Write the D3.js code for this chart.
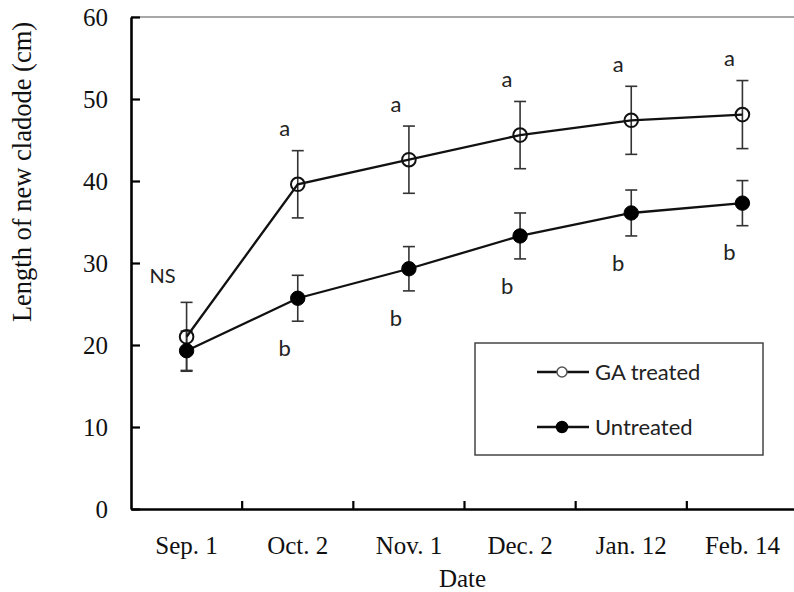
<!DOCTYPE html>
<html>
<head>
<meta charset="utf-8">
<script src="https://cdn.jsdelivr.net/npm/d3@7"></script>
<style>
  html, body { margin: 0; padding: 0; background: #fff; }
  svg { display: block; }
</style>
</head>
<body>
<svg id="chart" width="794" height="592"></svg>
<script>
// ---- data ----
const categories = ["Sep. 1", "Oct. 2", "Nov. 1", "Dec. 2", "Jan. 12", "Feb. 14"];
const gaMean = [21.0, 39.6, 42.6, 45.6, 47.4, 48.1];
const gaErr = [4.2, 4.1, 4.1, 4.1, 4.15, 4.15];
const untreatedMean = [19.3, 25.7, 29.3, 33.3, 36.1, 37.3];
const untreatedErr = [2.4, 2.8, 2.7, 2.8, 2.8, 2.75];
const gaLetters = ["", "a", "a", "a", "a", "a"];
const untreatedLetters = ["", "b", "b", "b", "b", "b"];
const firstLabel = "NS";
const yTicks = [0, 10, 20, 30, 40, 50, 60];
const seriesNames = ["GA treated", "Untreated"];
const yTitle = "Length of new cladode (cm)";
const xTitle = "Date";

(function () {
// ---- layout ----
const svg = d3.select("#chart");
const pLeft = 131, pRight = 798, pTop = 17, pBottom = 509;
const serif = "'Liberation Serif', 'Times New Roman', serif";
const sans = "Lato, 'Open Sans', sans-serif";

const x = d3.scaleBand().domain(categories).range([pLeft, pRight]).padding(0);
const cx = c => x(c) + x.bandwidth() / 2;
const y = d3.scaleLinear().domain([0, 60]).range([pBottom, pTop]);

// top border line (plot area)
svg.append("line")
  .attr("x1", pLeft).attr("x2", 794).attr("y1", y(60)).attr("y2", y(60))
  .attr("stroke", "#8a8a8a").attr("stroke-width", 1.5);

// y axis
const yAxis = d3.axisLeft(y).tickValues(yTicks).tickSize(-9).tickPadding(32).tickSizeOuter(0);
const gy = svg.append("g").attr("transform", `translate(${pLeft},0)`).call(yAxis);
gy.select(".domain").attr("stroke", "#000").attr("stroke-width", 2.6);
gy.selectAll(".tick line").attr("stroke", "#000").attr("stroke-width", 2.2);
gy.selectAll(".tick text").attr("font-family", serif).attr("font-size", 25).attr("fill", "#111")
  .attr("dx", 9);

// x axis line + labels
const xAxis = d3.axisBottom(x).tickSize(0).tickPadding(27).tickSizeOuter(0);
const gx = svg.append("g").attr("transform", `translate(0,${pBottom})`).call(xAxis);
gx.select(".domain").attr("stroke", "#000").attr("stroke-width", 2.6);
gx.selectAll(".tick text").attr("font-family", serif).attr("font-size", 25).attr("fill", "#111");

// x boundary ticks (between categories, pointing inward)
svg.append("g").selectAll("line")
  .data(categories.slice(1))
  .join("line")
  .attr("x1", d => x(d)).attr("x2", d => x(d))
  .attr("y1", pBottom).attr("y2", pBottom - 8)
  .attr("stroke", "#000").attr("stroke-width", 2.2);

// axis titles
svg.append("text")
  .attr("x", (pLeft + 794) / 2).attr("y", 587)
  .attr("text-anchor", "middle")
  .attr("font-family", serif).attr("font-size", 25).attr("fill", "#111")
  .text(xTitle);

svg.append("text")
  .attr("transform", `translate(31,172) rotate(-90)`)
  .attr("text-anchor", "middle")
  .attr("font-family", serif).attr("font-size", 26.5).attr("fill", "#111")
  .text(yTitle);

// ---- series ----
const ga = categories.map((c, i) => ({ c, m: gaMean[i], e: gaErr[i], l: gaLetters[i] }));
const un = categories.map((c, i) => ({ c, m: untreatedMean[i], e: untreatedErr[i], l: untreatedLetters[i] }));

function errorBars(data) {
  const g = svg.append("g").attr("stroke", "#333").attr("stroke-width", 1.6).attr("fill", "none");
  g.selectAll("line.v").data(data).join("line").attr("class", "v")
    .attr("x1", d => cx(d.c)).attr("x2", d => cx(d.c))
    .attr("y1", d => y(d.m + d.e)).attr("y2", d => y(d.m - d.e));
  g.selectAll("line.t").data(data).join("line").attr("class", "t")
    .attr("x1", d => cx(d.c) - 6).attr("x2", d => cx(d.c) + 6)
    .attr("y1", d => y(d.m + d.e)).attr("y2", d => y(d.m + d.e));
  g.selectAll("line.b").data(data).join("line").attr("class", "b")
    .attr("x1", d => cx(d.c) - 6).attr("x2", d => cx(d.c) + 6)
    .attr("y1", d => y(d.m - d.e)).attr("y2", d => y(d.m - d.e));
}
errorBars(ga);
errorBars(un);

const line = d3.line().x(d => cx(d.c)).y(d => y(d.m));
svg.append("path").datum(ga).attr("d", line)
  .attr("fill", "none").attr("stroke", "#111").attr("stroke-width", 2.3);
svg.append("path").datum(un).attr("d", line)
  .attr("fill", "none").attr("stroke", "#111").attr("stroke-width", 2.3);

svg.append("g").selectAll("circle").data(ga).join("circle")
  .attr("cx", d => cx(d.c)).attr("cy", d => y(d.m)).attr("r", 6.8)
  .attr("fill", "none").attr("stroke", "#111").attr("stroke-width", 2);
svg.append("g").selectAll("circle").data(un).join("circle")
  .attr("cx", d => cx(d.c)).attr("cy", d => y(d.m)).attr("r", 7.2)
  .attr("fill", "#000").attr("stroke", "#000").attr("stroke-width", 1);

// significance letters
svg.append("g").selectAll("text").data(ga.filter(d => d.l)).join("text")
  .attr("x", d => cx(d.c) - 13).attr("y", d => y(d.m + d.e) - 22)
  .attr("dy", "0.35em").attr("text-anchor", "middle")
  .attr("font-family", sans).attr("font-size", 22).attr("fill", "#222")
  .text(d => d.l);
svg.append("g").selectAll("text").data(un.filter(d => d.l)).join("text")
  .attr("x", d => cx(d.c) - 13).attr("y", d => y(d.m - d.e) + 27)
  .attr("dy", "0.35em").attr("text-anchor", "middle")
  .attr("font-family", sans).attr("font-size", 22).attr("fill", "#222")
  .text(d => d.l);
svg.append("text")
  .attr("x", cx(categories[0]) - 24).attr("y", y(ga[0].m + ga[0].e) - 26)
  .attr("dy", "0.35em").attr("text-anchor", "middle")
  .attr("font-family", sans).attr("font-size", 20).attr("fill", "#222")
  .text(firstLabel);

// ---- legend ----
const lg = svg.append("g");
lg.append("rect").attr("x", 475).attr("y", 343).attr("width", 288).attr("height", 112)
  .attr("fill", "#fff").attr("stroke", "#444").attr("stroke-width", 1.5);
const legendRows = [
  { name: seriesNames[0], filled: false, yy: 372 },
  { name: seriesNames[1], filled: true, yy: 427 }
];
legendRows.forEach(r => {
  lg.append("line").attr("x1", 537).attr("x2", 589).attr("y1", r.yy).attr("y2", r.yy)
    .attr("stroke", "#111").attr("stroke-width", 2.3);
  lg.append("circle").attr("cx", 562).attr("cy", r.yy).attr("r", r.filled ? 5.5 : 5)
    .attr("fill", r.filled ? "#000" : "#fff").attr("stroke", r.filled ? "#000" : "#555").attr("stroke-width", 1.5);
  lg.append("text").attr("x", 595).attr("y", r.yy).attr("dy", "0.35em")
    .attr("font-family", sans).attr("font-size", 22).attr("fill", "#222")
    .text(r.name);
});
})();
</script>
</body>
</html>
